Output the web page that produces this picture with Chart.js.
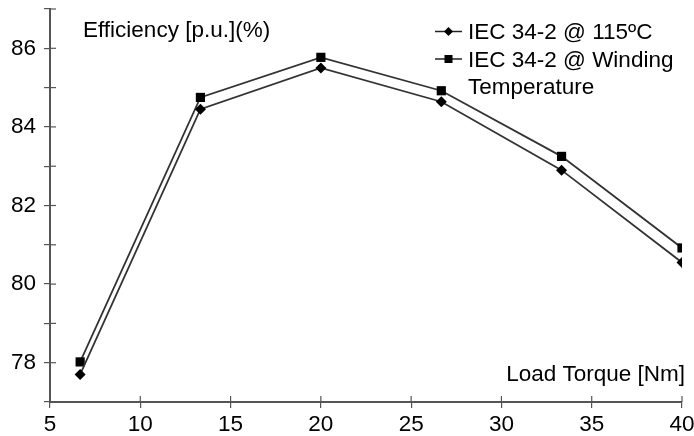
<!DOCTYPE html>
<html lang="en">
  <head>
    <meta charset="UTF-8" />
    <title>Efficiency vs Load Torque</title>
    <script src="https://cdn.jsdelivr.net/npm/chart.js@4/dist/chart.umd.min.js"></script>
    <style>
      html, body { margin: 0; padding: 0; background: #fff; }
      #wrap { width: 694px; height: 436px; }
    </style>
  </head>
  <body>
    <div id="wrap"><canvas id="myChart" width="694" height="436"></canvas></div>
    <script>
      // data
      const torque = [6.67, 13.33, 20, 26.67, 33.33, 40];
      const eff115 = [77.7, 84.45, 85.5, 84.64, 82.9, 80.55];
      const effWinding = [78.02, 84.75, 85.77, 84.92, 83.25, 80.92];
      const seriesNames = ["IEC 34-2 @ 115ºC", "IEC 34-2 @ Winding Temperature"];
      const yLabels = [78, 80, 82, 84, 86];
      const yTitle = "Efficiency [p.u.](%)";
      const xTitle = "Load Torque [Nm]";

      const FONT = "'Liberation Sans', Arial, sans-serif";
      const fontSize = 22.5;
      const ink = "#000";
      const axisColor = "#555";

      function toPoints(xs, ys) {
        return xs.map((x, i) => ({ x: x, y: ys[i] }));
      }

      // ticks that cross the axis line
      const crossTicks = {
        id: "crossTicks",
        afterDraw(chart) {
          const { ctx, chartArea, scales } = chart;
          ctx.save();
          ctx.strokeStyle = axisColor;
          ctx.lineWidth = 1.2;
          scales.x.ticks.forEach((t) => {
            const px = scales.x.getPixelForValue(t.value);
            ctx.beginPath();
            ctx.moveTo(px, chartArea.bottom);
            ctx.lineTo(px, chartArea.bottom - 6);
            ctx.stroke();
          });
          scales.y.ticks.forEach((t) => {
            const py = scales.y.getPixelForValue(t.value);
            ctx.beginPath();
            ctx.moveTo(chartArea.left, py);
            ctx.lineTo(chartArea.left + 6, py);
            ctx.stroke();
          });
          ctx.restore();
        },
      };

      // axis titles and legend sit inside the plot
      const labelsInside = {
        id: "labelsInside",
        afterDraw(chart) {
          const { ctx, chartArea } = chart;
          ctx.save();
          ctx.font = fontSize + "px " + FONT;
          ctx.fillStyle = ink;
          ctx.textBaseline = "alphabetic";
          ctx.textAlign = "left";
          ctx.fillText(yTitle, chartArea.left + 33, chartArea.top + 28);
          ctx.textAlign = "right";
          ctx.fillText(xTitle, chartArea.right + 3, chartArea.bottom - 21);

          // legend
          ctx.textAlign = "left";
          const textX = chartArea.left + 418;
          const maxW = chartArea.right + 12 - textX;
          let baseY = chartArea.top + 30;
          chart.data.datasets.forEach((ds) => {
            const midY = baseY - 7.5;
            ctx.strokeStyle = "#222";
            ctx.lineWidth = 1.5;
            ctx.beginPath();
            ctx.moveTo(textX - 33, midY);
            ctx.lineTo(textX - 6, midY);
            ctx.stroke();
            ctx.fillStyle = "#000";
            const cx = textX - 19.5;
            if (ds.pointStyle === "rectRot") {
              ctx.beginPath();
              ctx.moveTo(cx, midY - 4.5);
              ctx.lineTo(cx + 4.5, midY);
              ctx.lineTo(cx, midY + 4.5);
              ctx.lineTo(cx - 4.5, midY);
              ctx.closePath();
              ctx.fill();
            } else {
              ctx.fillRect(cx - 4, midY - 4, 8, 8);
            }
            ctx.fillStyle = ink;
            // simple word wrap
            const words = ds.label.split(" ");
            let line = "";
            words.forEach((w) => {
              const test = line ? line + " " + w : w;
              if (ctx.measureText(test).width > maxW && line) {
                ctx.fillText(line, textX, baseY);
                baseY += 27.5;
                line = w;
              } else {
                line = test;
              }
            });
            ctx.fillText(line, textX, baseY);
            baseY += 27.5;
          });
          ctx.restore();
        },
      };

      const ctx = document.getElementById("myChart").getContext("2d");
      const myChart = new Chart(ctx, {
        type: "scatter",
        data: {
          datasets: [
            {
              label: seriesNames[0],
              data: toPoints(torque, eff115),
              showLine: true,
              borderColor: "#333",
              borderWidth: 1.8,
              backgroundColor: "#000",
              pointStyle: "rectRot",
              pointRadius: 5.5,
              pointBorderWidth: 0,
            },
            {
              label: seriesNames[1],
              data: toPoints(torque, effWinding),
              showLine: true,
              borderColor: "#333",
              borderWidth: 1.8,
              backgroundColor: "#000",
              pointStyle: "rect",
              pointRadius: 6.5,
              pointBorderWidth: 0,
            },
          ],
        },
        options: {
          responsive: false,
          animation: false,
          layout: { padding: { top: 9, right: 12, left: 0, bottom: 0 } },
          plugins: {
            legend: { display: false },
            tooltip: { enabled: false },
          },
          scales: {
            x: {
              type: "linear",
              min: 5,
              max: 40,
              ticks: {
                stepSize: 5,
                color: ink,
                padding: 3,
                font: { family: FONT, size: fontSize },
                maxRotation: 0,
              },
              grid: {
                drawOnChartArea: false,
                tickLength: 6,
                color: axisColor,
                lineWidth: 1.2,
              },
              border: { color: axisColor, width: 2 },
              afterFit: (scale) => {
                scale.height = 34;
                scale.paddingLeft = 0;
                scale.paddingRight = 0;
              },
            },
            y: {
              min: 77,
              max: 87,
              ticks: {
                stepSize: 1,
                color: ink,
                padding: 8,
                font: { family: FONT, size: fontSize },
                callback: (v) => (yLabels.includes(v) ? v : ""),
              },
              grid: {
                drawOnChartArea: false,
                tickLength: 6,
                color: axisColor,
                lineWidth: 1.2,
              },
              border: { color: axisColor, width: 2 },
              afterFit: (scale) => {
                scale.width = 50;
                scale.paddingTop = 0;
                scale.paddingBottom = 0;
              },
            },
          },
        },
        plugins: [crossTicks, labelsInside],
      });
    </script>
  </body>
</html>
